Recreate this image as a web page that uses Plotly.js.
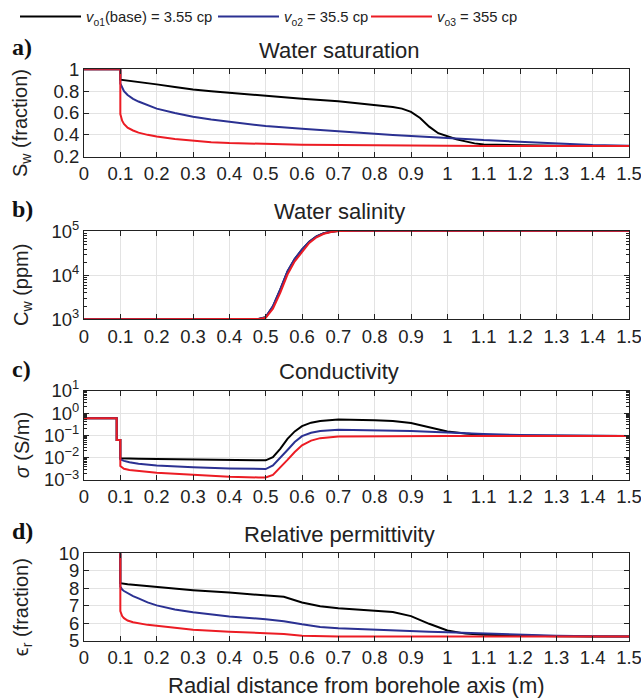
<!DOCTYPE html>
<html>
<head>
<meta charset="utf-8">
<script src="https://cdn.plot.ly/plotly-3.0.1.min.js"></script>
<style>html,body{margin:0;padding:0;background:#fff;}#chart{width:641px;height:698px;}</style>
</head>
<body>
<div id="chart"></div>
<script>
// ---------- DATA ----------
const seriesNames = ['<i>v</i><sub>o1</sub>(base) = 3.55 cp', '<i>v</i><sub>o2</sub> = 35.5 cp', '<i>v</i><sub>o3</sub> = 355 cp'];
const panelTitles = ['Water saturation', 'Water salinity', 'Conductivity', 'Relative permittivity'];
const panelLetters = ['a)', 'b)', 'c)', 'd)'];
const yTitles = ['S<sub>w</sub> (fraction)', 'C<sub>w</sub> (ppm)', '<i>σ</i> (S/m)', 'ϵ<sub>r</sub> (fraction)'];
const xTitle = 'Radial distance from borehole axis (m)';

// a) Water saturation
const satX = [0, 0.1, 0.1, 0.105, 0.11, 0.12, 0.135, 0.15, 0.175, 0.2, 0.25, 0.3, 0.35, 0.4, 0.5, 0.6, 0.7, 0.8, 0.85, 0.875, 0.9, 0.925, 0.95, 0.975, 1.0, 1.025, 1.05, 1.075, 1.1, 1.2, 1.3, 1.4, 1.5];
const satBase = [1, 1, 0.905, 0.903, 0.9, 0.897, 0.892, 0.886, 0.875, 0.862, 0.838, 0.815, 0.8, 0.785, 0.755, 0.73, 0.708, 0.675, 0.655, 0.64, 0.61, 0.555, 0.475, 0.415, 0.385, 0.36, 0.34, 0.322, 0.312, 0.303, 0.3, 0.299, 0.298];
const satV2 = [1, 1, 0.87, 0.83, 0.8, 0.765, 0.73, 0.705, 0.67, 0.64, 0.6, 0.565, 0.54, 0.52, 0.48, 0.455, 0.43, 0.405, 0.398, 0.394, 0.39, 0.386, 0.383, 0.379, 0.375, 0.37, 0.364, 0.358, 0.352, 0.335, 0.318, 0.306, 0.3];
const satV3 = [1, 1, 0.59, 0.53, 0.5, 0.465, 0.44, 0.42, 0.4, 0.385, 0.362, 0.345, 0.333, 0.325, 0.315, 0.31, 0.306, 0.303, 0.302, 0.302, 0.301, 0.301, 0.3, 0.3, 0.3, 0.3, 0.3, 0.3, 0.299, 0.299, 0.298, 0.298, 0.298];

// b) Water salinity (ppm)
const salX = [0, 0.45, 0.48, 0.5, 0.52, 0.54, 0.56, 0.58, 0.6, 0.62, 0.64, 0.66, 0.68, 0.7, 0.75, 1.5];
const salBase = [1000, 1000, 1015, 1115, 1950, 4700, 12200, 23500, 38500, 58500, 77500, 91500, 99500, 103500, 105000, 105000];
const salV2 = [1000, 1000, 1015, 1120, 2000, 4800, 12500, 24000, 39000, 59000, 78000, 92000, 100000, 104000, 105000, 105000];
const salV3 = [1000, 1000, 1010, 1080, 1750, 4000, 10500, 21000, 35000, 55000, 74000, 89000, 98000, 103000, 105000, 105000];

// c) Conductivity (S/m)
const conX = [0, 0.09, 0.09, 0.1, 0.1, 0.105, 0.11, 0.125, 0.15, 0.2, 0.3, 0.4, 0.48, 0.5, 0.52, 0.54, 0.56, 0.58, 0.6, 0.625, 0.65, 0.7, 0.8, 0.85, 0.9, 0.95, 1.0, 1.05, 1.1, 1.2, 1.3, 1.5];
const conBase = [0.58, 0.58, 0.062, 0.062, 0.0095, 0.0094, 0.0093, 0.0092, 0.009, 0.0087, 0.0082, 0.0078, 0.0075, 0.0076, 0.0105, 0.025, 0.07, 0.15, 0.26, 0.37, 0.44, 0.51, 0.48, 0.44, 0.36, 0.23, 0.15, 0.12, 0.105, 0.097, 0.095, 0.093];
const conV2 = [0.58, 0.58, 0.062, 0.062, 0.0085, 0.0078, 0.0072, 0.0062, 0.0054, 0.0045, 0.0037, 0.0033, 0.0031, 0.0031, 0.0045, 0.0095, 0.022, 0.05, 0.092, 0.13, 0.158, 0.18, 0.172, 0.165, 0.155, 0.145, 0.133, 0.122, 0.114, 0.104, 0.098, 0.093];
const conV3 = [0.58, 0.58, 0.062, 0.062, 0.0042, 0.0036, 0.0032, 0.0028, 0.0025, 0.0021, 0.0017, 0.0014, 0.0013, 0.0013, 0.0017, 0.0035, 0.008, 0.018, 0.036, 0.058, 0.075, 0.088, 0.092, 0.093, 0.093, 0.093, 0.093, 0.093, 0.093, 0.093, 0.093, 0.093];

// d) Relative permittivity
const perX = [0, 0.1, 0.1, 0.102, 0.105, 0.11, 0.12, 0.135, 0.15, 0.175, 0.2, 0.25, 0.3, 0.4, 0.5, 0.55, 0.6, 0.65, 0.7, 0.8, 0.85, 0.9, 0.95, 1.0, 1.05, 1.1, 1.2, 1.3, 1.4, 1.5];
const perBase = [40, 40, 8.3, 8.29, 8.28, 8.26, 8.23, 8.2, 8.17, 8.12, 8.07, 7.98, 7.9, 7.76, 7.62, 7.52, 7.2, 6.98, 6.87, 6.74, 6.65, 6.42, 5.98, 5.6, 5.42, 5.35, 5.3, 5.27, 5.26, 5.25];
const perV2 = [40, 40, 8.1, 8.0, 7.93, 7.85, 7.72, 7.56, 7.43, 7.2, 7.03, 6.8, 6.64, 6.4, 6.24, 6.13, 5.95, 5.8, 5.72, 5.63, 5.6, 5.57, 5.53, 5.5, 5.46, 5.42, 5.36, 5.3, 5.27, 5.25];
const perV3 = [40, 40, 6.7, 6.55, 6.42, 6.3, 6.17, 6.07, 6.0, 5.92, 5.87, 5.74, 5.64, 5.53, 5.45, 5.4, 5.3, 5.27, 5.26, 5.25, 5.25, 5.25, 5.25, 5.25, 5.25, 5.25, 5.25, 5.25, 5.25, 5.25];

const salTickVals = [1e3, 1e4, 1e5];
const salTickText = ['10<sup>3</sup>', '10<sup>4</sup>', '10<sup>5</sup>'];
const conTickVals = [1e-3, 1e-2, 1e-1, 1e0, 1e1];
const conTickText = ['10<sup>−3</sup>', '10<sup>−2</sup>', '10<sup>−1</sup>', '10<sup>0</sup>', '10<sup>1</sup>'];
const minorMult = [2, 3, 4, 5, 6, 7, 8, 9];

// ---------- STYLE / LAYOUT ----------
const colors = ['#000000', '#2b3192', '#ec1c24'];
const W = 641, H = 698;
const M = {l: 84, r: 12, t: 69, b: 57, autoexpand: false};
const PW = W - M.l - M.r, PH = H - M.t - M.b;
const px = x => (x - M.l) / PW;
const py = y => 1 - (y - M.t) / PH;

function minorVals(lo, hi) {
  const v = [];
  for (let e = lo; e < hi; e++) minorMult.forEach(m => v.push(m * Math.pow(10, e)));
  return v;
}

const panels = [
  {x: satX, ys: [satBase, satV2, satV3]},
  {x: salX, ys: [salBase, salV2, salV3]},
  {x: conX, ys: [conBase, conV2, conV3]},
  {x: perX, ys: [perBase, perV2, perV3]}
];
const panelPix = [[69.3, 156.7], [230.7, 319.3], [390.7, 480], [553.3, 641]];
const legendIds = ['legend', 'legend2', 'legend3'];
const legendLeft = [15, 213, 366];

const traces = [];
panels.forEach((p, i) => {
  const s = i === 0 ? '' : String(i + 1);
  p.ys.forEach((y, k) => {
    traces.push({
      x: p.x, y: y, type: 'scatter', mode: 'lines',
      xaxis: 'x' + s, yaxis: 'y' + s,
      name: seriesNames[k], showlegend: i === 0, legend: legendIds[k],
      line: {color: colors[k], width: 2},
      cliponaxis: true
    });
  });
});

const font = "'Liberation Sans', Arial, Helvetica, sans-serif";
const ink = '#222222';
const baseAxis = {
  showline: true, mirror: 'ticks', linecolor: ink, linewidth: 1,
  ticks: 'inside', ticklen: 5, tickcolor: ink, tickwidth: 1,
  showgrid: true, gridcolor: '#e3e3e3', gridwidth: 1, zeroline: false,
  tickfont: {family: font, size: 18.5, color: ink}, automargin: false,
  ticklabeloverflow: 'allow'
};

const layout = {
  width: W, height: H, margin: M,
  paper_bgcolor: '#fff', plot_bgcolor: '#fff',
  font: {family: font, color: ink, size: 15},
  showlegend: true,
  annotations: [], shapes: []
};
legendIds.forEach((id, k) => {
  layout[id] = {orientation: 'h', x: px(legendLeft[k]), xanchor: 'left', y: py(17), yanchor: 'middle',
    font: {family: font, size: 14.8, color: ink}, bgcolor: 'rgba(0,0,0,0)', borderwidth: 0,
    itemwidth: 61};
});

panelPix.forEach((pp, i) => {
  const s = i === 0 ? '' : String(i + 1);
  layout['xaxis' + s] = Object.assign({}, baseAxis, {
    anchor: 'y' + s, domain: [0, 1], range: [0, 1.5], tick0: 0, dtick: 0.1
  });
  const ya = Object.assign({}, baseAxis, {
    anchor: 'x' + s, domain: [py(pp[1]), py(pp[0])]
  });
  if (i === 0) Object.assign(ya, {range: [0.2, 1], tick0: 0.2, dtick: 0.2});
  if (i === 1) Object.assign(ya, {type: 'log', range: [3, 5.02], tickmode: 'array', tickvals: salTickVals, ticktext: salTickText,
    minor: {tickmode: 'array', tickvals: minorVals(3, 5), ticks: 'inside', ticklen: 3, tickcolor: ink, showgrid: false}});
  if (i === 2) Object.assign(ya, {type: 'log', range: [-3, 1], tickmode: 'array', tickvals: conTickVals, ticktext: conTickText,
    minor: {tickmode: 'array', tickvals: minorVals(-3, 1), ticks: 'inside', ticklen: 3, tickcolor: ink, showgrid: false}});
  if (i === 3) Object.assign(ya, {range: [5, 10], tick0: 5, dtick: 1});
  layout['yaxis' + s] = ya;

  // subplot title
  layout.annotations.push({text: panelTitles[i], xref: 'paper', yref: 'paper',
    x: px(339), y: py(pp[0] - 19), xanchor: 'center', yanchor: 'middle', showarrow: false,
    font: {family: font, size: 22, color: ink}});
  // panel letter
  layout.annotations.push({text: '<b>' + panelLetters[i] + '</b>', xref: 'paper', yref: 'paper',
    x: px(10), y: py(pp[0] - 22), xanchor: 'left', yanchor: 'middle', showarrow: false,
    font: {family: "'Liberation Serif', 'DejaVu Serif', serif", size: 24, color: '#111'}});
  // y title
  layout.annotations.push({text: yTitles[i], xref: 'paper', yref: 'paper',
    x: px(22), y: py((pp[0] + pp[1]) / 2 + 10), xanchor: 'center', yanchor: 'middle', showarrow: false,
    textangle: -90, font: {family: font, size: 20, color: ink}});
});

layout.annotations.push({text: xTitle, xref: 'paper', yref: 'paper',
  x: 0.5, y: py(685), xanchor: 'center', yanchor: 'middle', showarrow: false,
  font: {family: font, size: 22, color: ink}});

Plotly.newPlot('chart', traces, layout, {displayModeBar: false, staticPlot: true});
</script>
</body>
</html>
